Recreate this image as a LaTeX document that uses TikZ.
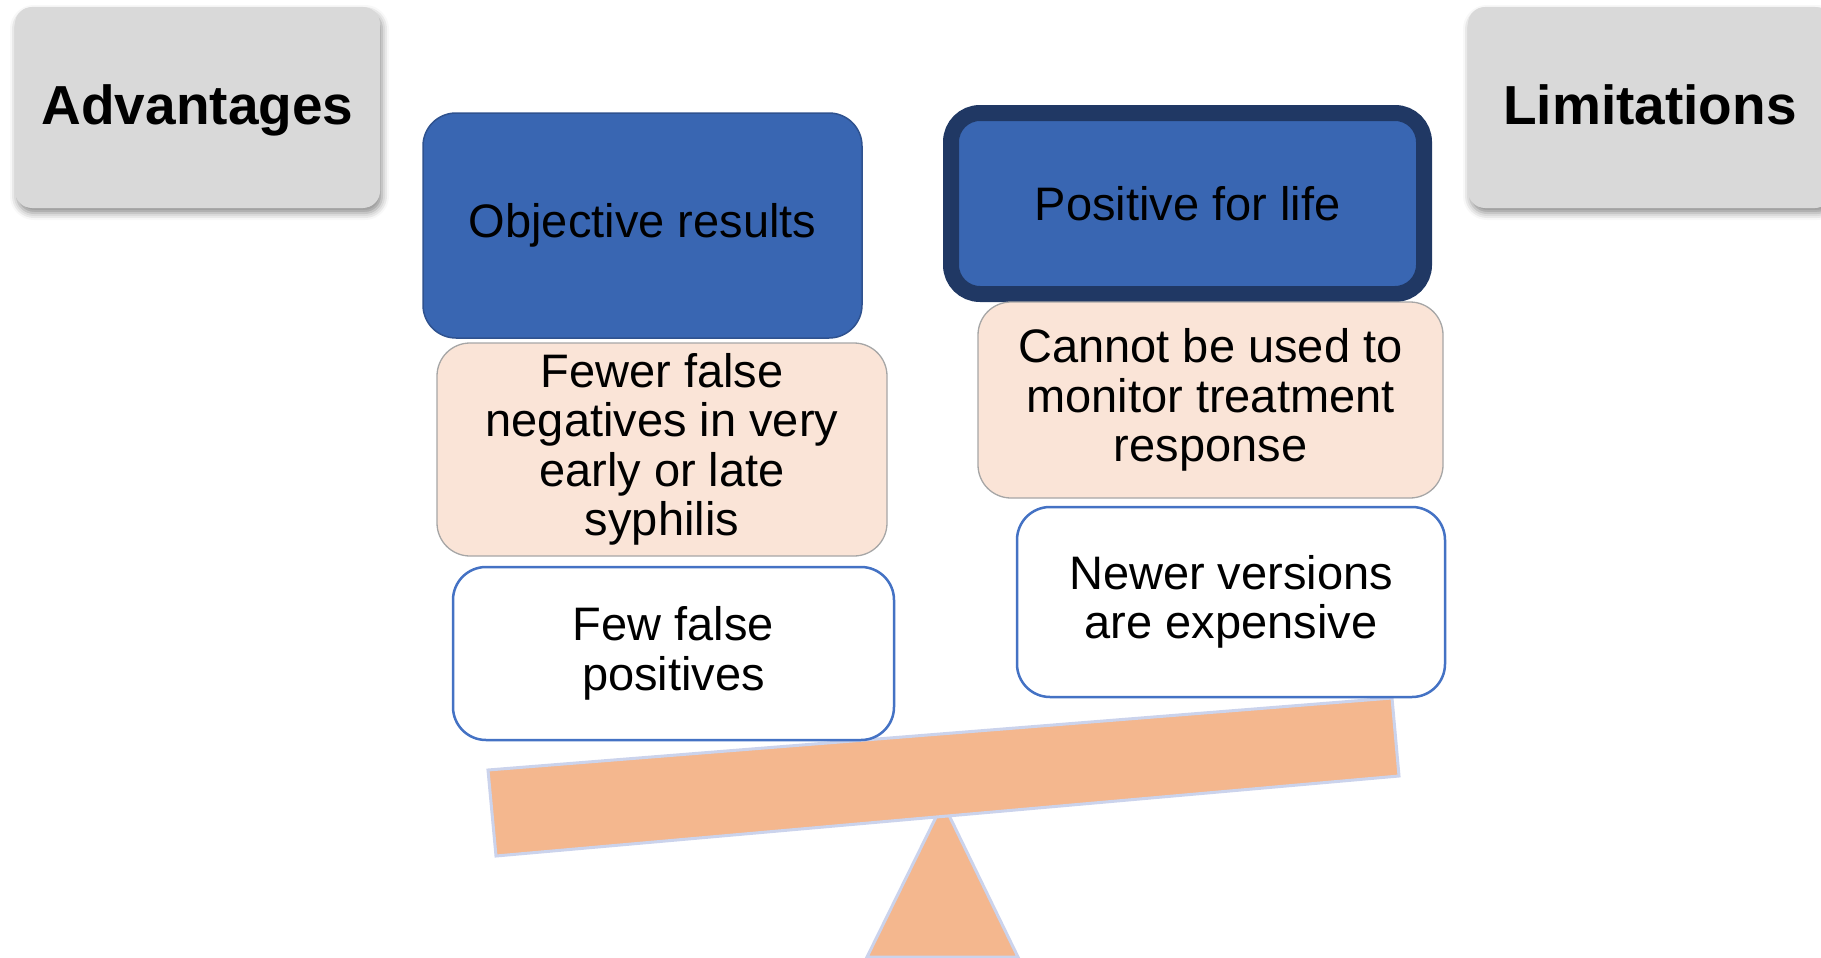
\documentclass[tikz,border=0pt]{standalone}
\usepackage{fontspec}
\setmainfont{Liberation Sans}
\usetikzlibrary{shadows.blur}

\definecolor{headgray}{HTML}{D9D9D9}
\definecolor{boxblue}{HTML}{3966B2}
\definecolor{edgeblue}{HTML}{2F528F}
\definecolor{navy}{HTML}{203864}
\definecolor{peach}{HTML}{FAE4D7}
\definecolor{peachedge}{HTML}{A6A6A6}
\definecolor{lineblue}{HTML}{4472C4}
\definecolor{beamfill}{HTML}{F4B78E}
\definecolor{beamedge}{HTML}{CBD3EC}

\tikzset{
  body/.style={font=\fontsize{47}{49.5}\selectfont, align=center, inner sep=0pt},
  headbox/.style={fill=headgray, draw=none, rounded corners=17pt, inner sep=0pt,
    font=\bfseries\fontsize{55}{60}\selectfont, text height=40pt, text depth=7pt,
    blur shadow={shadow xshift=2pt, shadow yshift=-5pt, shadow blur radius=7pt, shadow opacity=45}},
  bluebox/.style={body, fill=boxblue, draw=edgeblue, line width=1.5pt, rounded corners=33pt},
  strongbox/.style={body, fill=boxblue, draw=navy, line width=16pt, rounded corners=29pt},
  peachbox/.style={body, fill=peach, draw=peachedge, line width=1.3pt, rounded corners=33pt},
  whitebox/.style={body, fill=white, draw=lineblue, line width=2.5pt, rounded corners=33pt},
  seesaw/.style={fill=beamfill, draw=beamedge, line width=3pt, line join=miter},
}

\begin{document}
\begin{tikzpicture}[x=1pt, y=-1pt]
\useasboundingbox (0,0) rectangle (1821,958);

% pivot and tilted beam
\draw[seesaw] (943,803) -- (1018,957) -- (867,957) -- cycle;
\draw[seesaw] (488,770) -- (1392,698) -- (1399,776) -- (496,856) -- cycle;

% column headers
\node[headbox, minimum width=365pt, minimum height=201pt] (adv) at (197.5,107.5) {Advantages};
\node[headbox, minimum width=364pt, minimum height=201pt] (lim) at (1650,107.5) {Limitations};

% advantages column
\node[bluebox, minimum width=439pt, minimum height=225pt] (obj) at (642.5,225.5) {Objective results};
\node[peachbox, minimum width=450pt, minimum height=213pt] (fewneg) at (662,449.5)
  {Fewer false\\negatives in very\\early or late\\syphilis};
\node[whitebox, minimum width=441pt, minimum height=173pt] (fewpos) at (673.5,653.5)
  {Few false\\positives};

% limitations column
\node[strongbox, minimum width=473pt, minimum height=181pt] (life) at (1187.5,203.5) {Positive for life};
\node[peachbox, minimum width=465pt, minimum height=196pt] (monitor) at (1210.5,400)
  {Cannot be used to\\monitor treatment\\response};
\node[whitebox, minimum width=428pt, minimum height=190pt] (cost) at (1231,602)
  {Newer versions\\are expensive};
\end{tikzpicture}
\end{document}
